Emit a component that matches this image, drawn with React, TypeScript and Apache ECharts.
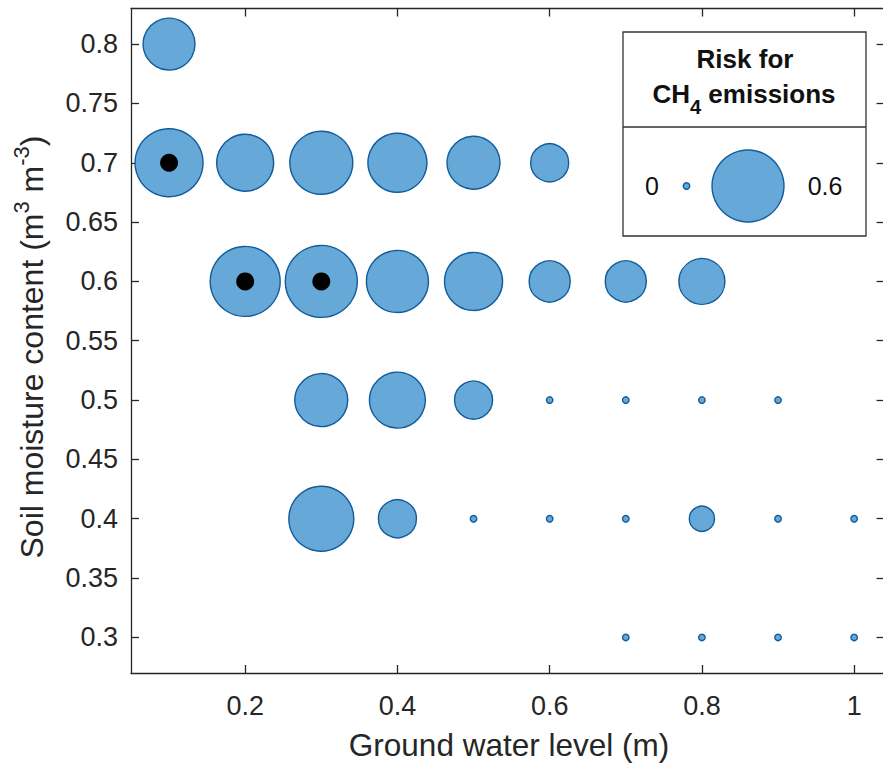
import React, { useEffect, useRef } from 'react';
import * as echarts from 'echarts';

// Ground water level (m) of each bubble
const GROUND_WATER = [
  0.1,
  0.1, 0.2, 0.3, 0.4, 0.5, 0.6,
  0.2, 0.3, 0.4, 0.5, 0.6, 0.7, 0.8,
  0.3, 0.4, 0.5, 0.6, 0.7, 0.8, 0.9,
  0.3, 0.4, 0.5, 0.6, 0.7, 0.8, 0.9, 1.0,
  0.7, 0.8, 0.9, 1.0,
];
// Soil moisture content (m3 m-3) of each bubble
const SOIL_MOISTURE = [
  0.8,
  0.7, 0.7, 0.7, 0.7, 0.7, 0.7,
  0.6, 0.6, 0.6, 0.6, 0.6, 0.6, 0.6,
  0.5, 0.5, 0.5, 0.5, 0.5, 0.5, 0.5,
  0.4, 0.4, 0.4, 0.4, 0.4, 0.4, 0.4, 0.4,
  0.3, 0.3, 0.3, 0.3,
];
// Risk for CH4 emissions (bubble size)
const RISK = [
  0.31,
  0.535, 0.374, 0.458, 0.402, 0.323, 0.164,
  0.567, 0.6, 0.444, 0.388, 0.192, 0.192, 0.242,
  0.323, 0.361, 0.164, 0, 0, 0, 0,
  0.488, 0.164, 0, 0, 0, 0.069, 0, 0,
  0, 0, 0, 0,
];
// Highlighted (black) points
const HIGH_X = [0.1, 0.2, 0.3];
const HIGH_Y = [0.7, 0.6, 0.6];

const X_TICKS = [0.2, 0.4, 0.6, 0.8, 1];
const Y_TICKS = [0.3, 0.35, 0.4, 0.45, 0.5, 0.55, 0.6, 0.65, 0.7, 0.75, 0.8];
const LEGEND_VALUES = [0, 0.6];

const X_MIN = 0.05;
const X_MAX = 1.04;
const Y_MIN = 0.27;
const Y_MAX = 0.83;

const D_MIN = 6.5;
const D_MAX = 72;
const RISK_MAX = 0.6;

export default function App() {
  const ref = useRef<HTMLDivElement>(null);

  useEffect(() => {
    if (!ref.current) return;
    const chart = echarts.init(ref.current, null, { renderer: 'svg' });
    const font = "'Liberation Sans', Arial, Helvetica, sans-serif";
    const axisColor = '#262626';
    const fillColor = '#66a9d8';
    const edgeColor = '#135c9b';

    const sizeFor = (v: number) =>
      Math.sqrt(D_MIN * D_MIN + (v / RISK_MAX) * (D_MAX * D_MAX - D_MIN * D_MIN));

    const bubbleData = GROUND_WATER.map((x, i) => [x, SOIL_MOISTURE[i], RISK[i]]);
    const highData = HIGH_X.map((x, i) => [x, HIGH_Y[i]]);
    const fmt = (v: number) => String(parseFloat(Number(v).toFixed(2)));

    const axisLine = { show: true, onZero: false, lineStyle: { color: axisColor, width: 1.3 } };

    const xAxisBase = (pos: 'bottom' | 'top', labels: boolean) => ({
      type: 'value',
      min: X_MIN,
      max: X_MAX,
      position: pos,
      axisLine,
      splitLine: { show: false },
      axisTick: {
        show: true,
        inside: true,
        length: 8,
        customValues: X_TICKS,
        lineStyle: { color: axisColor, width: 1.3 },
      },
      axisLabel: {
        show: labels,
        customValues: X_TICKS,
        formatter: fmt,
        margin: 19,
        fontSize: 27,
        color: axisColor,
        fontFamily: font,
      },
    });
    const yAxisBase = (pos: 'left' | 'right', labels: boolean) => ({
      type: 'value',
      min: Y_MIN,
      max: Y_MAX,
      position: pos,
      axisLine,
      splitLine: { show: false },
      axisTick: {
        show: true,
        inside: true,
        length: 8,
        customValues: Y_TICKS,
        lineStyle: { color: axisColor, width: 1.3 },
      },
      axisLabel: {
        show: labels,
        customValues: Y_TICKS,
        formatter: fmt,
        margin: 13,
        fontSize: 27,
        color: axisColor,
        fontFamily: font,
      },
    });

    // legend geometry
    const lgX = 623;
    const lgY = 32;
    const lgW = 243;
    const lgH = 204;
    const lgDiv = 127;
    const lgRow = 186;

    chart.setOption({
      animation: false,
      backgroundColor: '#ffffff',
      grid: {
        left: 131,
        top: 8.5,
        width: 753.6,
        height: 664.5,
        containLabel: false,
        outerBoundsMode: 'none',
      },
      xAxis: [xAxisBase('bottom', true), xAxisBase('top', false)],
      yAxis: [yAxisBase('left', true), yAxisBase('right', false)],
      series: [
        {
          type: 'scatter',
          xAxisIndex: 0,
          yAxisIndex: 0,
          data: bubbleData,
          symbol: 'circle',
          symbolSize: (val: number[]) => sizeFor(val[2]),
          itemStyle: { color: fillColor, borderColor: edgeColor, borderWidth: 1.4, opacity: 1 },
          emphasis: { disabled: true },
          z: 2,
        },
        {
          type: 'scatter',
          xAxisIndex: 0,
          yAxisIndex: 0,
          data: highData,
          symbol: 'circle',
          symbolSize: 18,
          itemStyle: { color: '#000000', opacity: 1 },
          emphasis: { disabled: true },
          z: 3,
        },
      ],
      graphic: [
        {
          type: 'text',
          x: 31.5,
          y: 347,
          rotation: Math.PI / 2,
          style: {
            text: '{a|Soil moisture content (m}{s|3}{a| m}{s|-3}{a|)}',
            align: 'center',
            verticalAlign: 'middle',
            fill: axisColor,
            font: `32px ${font}`,
            rich: {
              a: { fontSize: 32, lineHeight: 42, fontFamily: font, fill: axisColor },
              s: { fontSize: 22, lineHeight: 22, fontFamily: font, fill: axisColor, verticalAlign: 'top' },
            },
          },
          z: 10,
        },
        {
          type: 'text',
          x: 509,
          y: 745,
          style: {
            text: 'Ground water level (m)',
            align: 'center',
            verticalAlign: 'middle',
            fill: axisColor,
            fontSize: 31.5,
            fontFamily: font,
          },
          z: 10,
        },
        {
          type: 'rect',
          shape: { x: lgX, y: lgY, width: lgW, height: lgH },
          style: { fill: '#ffffff', stroke: '#333333', lineWidth: 1.3 },
          z: 10,
        },
        {
          type: 'line',
          shape: { x1: lgX, y1: lgDiv, x2: lgX + lgW, y2: lgDiv },
          style: { stroke: '#333333', lineWidth: 1.3 },
          z: 11,
        },
        {
          type: 'text',
          x: 745,
          y: 59,
          style: {
            text: 'Risk for',
            align: 'center',
            verticalAlign: 'middle',
            fill: '#111111',
            fontSize: 26,
            fontWeight: 'bold',
            fontFamily: font,
          },
          z: 11,
        },
        {
          type: 'text',
          x: 744,
          y: 94,
          style: {
            text: '{b|CH}{u|4}{b| emissions}',
            align: 'center',
            verticalAlign: 'middle',
            fill: '#111111',
            font: `bold 26px ${font}`,
            rich: {
              b: { fontSize: 26, lineHeight: 46, fontWeight: 'bold', fontFamily: font, fill: '#111111' },
              u: { fontSize: 20, lineHeight: 20, fontWeight: 'bold', fontFamily: font, fill: '#111111', verticalAlign: 'bottom' },
            },
          },
          z: 11,
        },
        {
          type: 'text',
          x: 652,
          y: lgRow,
          style: {
            text: fmt(LEGEND_VALUES[0]),
            align: 'center',
            verticalAlign: 'middle',
            fill: '#111111',
            fontSize: 25,
            fontFamily: font,
          },
          z: 11,
        },
        {
          type: 'circle',
          shape: { cx: 686.5, cy: lgRow, r: sizeFor(LEGEND_VALUES[0]) / 2 },
          style: { fill: fillColor, stroke: edgeColor, lineWidth: 1.4 },
          z: 11,
        },
        {
          type: 'circle',
          shape: { cx: 748, cy: lgRow, r: sizeFor(LEGEND_VALUES[1]) / 2 },
          style: { fill: fillColor, stroke: edgeColor, lineWidth: 1.4 },
          z: 11,
        },
        {
          type: 'text',
          x: 825,
          y: lgRow,
          style: {
            text: fmt(LEGEND_VALUES[1]),
            align: 'center',
            verticalAlign: 'middle',
            fill: '#111111',
            fontSize: 25,
            fontFamily: font,
          },
          z: 11,
        },
      ],
    });

    return () => {
      chart.dispose();
    };
  }, []);

  return (
    <div
      ref={ref}
      style={{ position: 'absolute', left: 0, top: 0, width: 883, height: 764 }}
    />
  );
}
